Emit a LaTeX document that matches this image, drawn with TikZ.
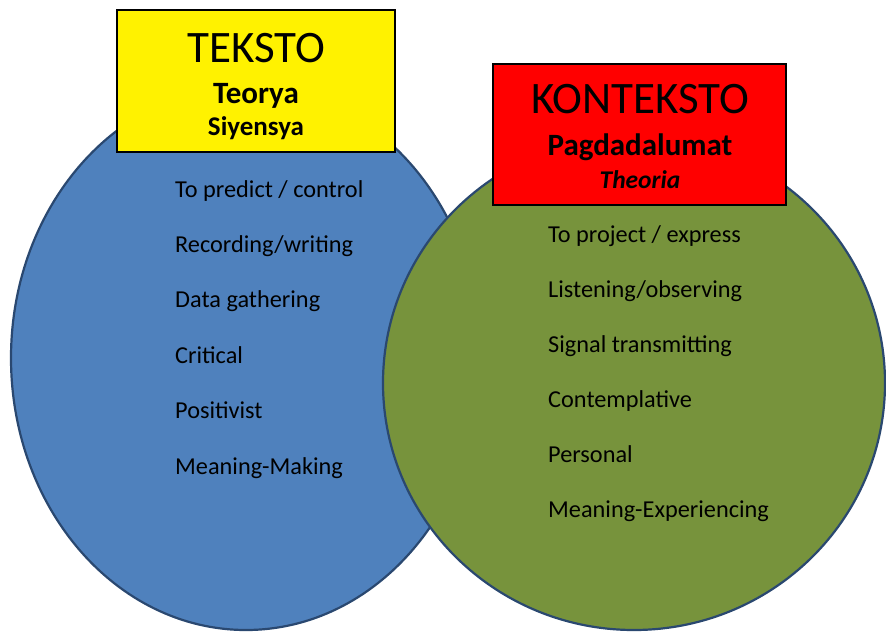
\documentclass[tikz,border=0pt]{standalone}
\usepackage{fontspec}
\setmainfont{Carlito}
\definecolor{bluefill}{HTML}{4F81BD}
\definecolor{greenfill}{HTML}{77933C}
\definecolor{rimcol}{HTML}{2A4870}
\tikzset{
  circ/.style={draw=rimcol, line width=2.2pt},
  titlebox/.style={draw=black, line width=2.5pt},
  item/.style={anchor=base west, inner sep=0pt, font=\fontsize{24.3}{24}\selectfont, text=black},
  bigtitle/.style={anchor=base, inner sep=0pt, font=\fontsize{45}{45}\selectfont},
  subtitle/.style={anchor=base, inner sep=0pt, font=\fontsize{31}{31}\selectfont\bfseries},
  thirdtitle/.style={anchor=base, inner sep=0pt, font=\fontsize{26}{26}\selectfont\bfseries},
}
\begin{document}
\begin{tikzpicture}[x=1pt,y=-1pt]
\useasboundingbox (0,0) rectangle (886,632);
% circles
\draw[circ, fill=bluefill] (246,358) ellipse [x radius=235, y radius=272];
\draw[circ, fill=greenfill] (634,383) ellipse [x radius=251, y radius=247];
% title boxes
\draw[titlebox, fill=yellow] (117,10) rectangle (395,152);
\draw[titlebox, fill=red] (493,64) rectangle (786,205);
\node[bigtitle] (t1) at (256,62) {TEKSTO};
\node[subtitle] (t2) at (256,103) {Teorya};
\node[thirdtitle, font=\fontsize{27}{27}\selectfont\bfseries] (t3) at (256,135) {Siyensya};
\node[bigtitle] (k1) at (640,113) {KONTEKSTO};
\node[subtitle] (k2) at (640,155) {Pagdadalumat};
\node[thirdtitle, font=\fontsize{25.5}{25.5}\selectfont\bfseries\itshape] (k3) at (640,188) {Theoria};
% left items
\node[item] (l1) at (175,197) {To predict / control};
\node[item] (l2) at (175,252.4) {Recording/writing};
\node[item] (l3) at (175,307.8) {Data gathering};
\node[item] (l4) at (175,363.2) {Critical};
\node[item] (l5) at (175,418.6) {Positivist};
\node[item] (l6) at (175,474) {Meaning-Making};
% right items
\node[item] (r1) at (548,242) {To project / express};
\node[item] (r2) at (548,297) {Listening/observing};
\node[item] (r3) at (548,352) {Signal transmitting};
\node[item] (r4) at (548,407) {Contemplative};
\node[item] (r5) at (548,462) {Personal};
\node[item] (r6) at (548,517) {Meaning-Experiencing};
\end{tikzpicture}
\end{document}
